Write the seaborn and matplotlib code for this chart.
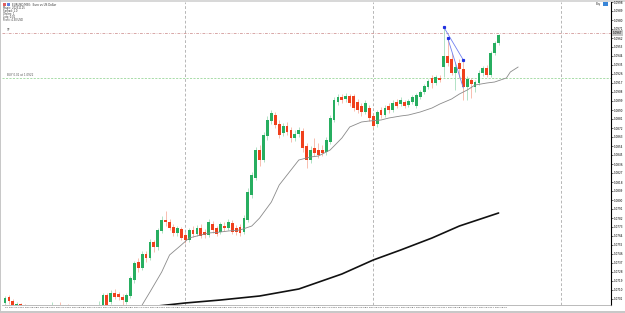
import matplotlib
matplotlib.use("Agg")
import matplotlib.pyplot as plt
import seaborn as sns
import pandas as pd
from matplotlib.ticker import MultipleLocator, FormatStrFormatter
from matplotlib.patches import Rectangle

sns.set_theme(style="white")
plt.rcParams['font.family'] = ['DejaVu Sans']

# ---- candle data (EURUSD M30) ----
opens = [1.0697,1.0703,1.0699,1.0694,1.0696,1.0694,1.0690,1.0686,1.0689,1.0684,
         1.0680,1.0683,1.0689,1.0693,1.0687,1.0685,1.0688,1.0686,1.0682,1.0686,
         1.0683,1.0687,1.0690,1.0688,1.0692,1.0695,1.0705,1.0698,1.0707,1.0706,
         1.0703,1.0698,1.0704,1.0720,1.0738,1.0732,1.0746,1.0742,1.0758,1.0753,
         1.0769,1.0780,1.0778,1.0773,1.0767,1.0771,1.0765,1.0760,1.0770,1.0766,
         1.0772,1.0768,1.0765,1.0776,1.0772,1.0768,1.0774,1.0772,1.0777,1.0772,
         1.0773,1.0768,1.0780,1.0805,1.0822,1.0850,1.0840,1.0864,1.0879,1.0885,
         1.0876,1.0867,1.0874,1.0870,1.0862,1.0866,1.0869,1.0854,1.0840,1.0852,
         1.0850,1.0850,1.0848,1.0858,1.0880,1.0898,1.0903,1.0901,1.0904,1.0904,
         1.0898,1.0894,1.0888,1.0892,1.0884,1.0876,1.0890,1.0885,1.0894,1.0890,
         1.0898,1.0896,1.0898,1.0895,1.0898,1.0894,1.0903,1.0908,1.0913,1.0922,
         1.0917,1.0922,1.0933,1.0944,1.0941,1.0927,1.0937,1.0931,1.0913,1.0920,
         1.0913,1.0917,1.0927,1.0932,1.0925,1.0947,1.0957]
highs = [1.0704,1.0705,1.0701,1.0698,1.0697,1.0696,1.0693,1.0691,1.0692,1.0687,
         1.0685,1.0692,1.0698,1.0694,1.0698,1.0691,1.0696,1.0689,1.0688,1.0690,
         1.0689,1.0692,1.0693,1.0694,1.0699,1.0707,1.0707,1.0710,1.0711,1.0708,
         1.0706,1.0707,1.0724,1.0739,1.0742,1.0749,1.0749,1.0761,1.0760,1.0772,
         1.0784,1.0789,1.0781,1.0776,1.0774,1.0773,1.0768,1.0772,1.0774,1.0775,
         1.0776,1.0771,1.0781,1.0779,1.0774,1.0778,1.0778,1.0781,1.0780,1.0775,
         1.0776,1.0785,1.0812,1.0828,1.0853,1.0855,1.0868,1.0884,1.0890,1.0888,
         1.0880,1.0877,1.0878,1.0873,1.0870,1.0873,1.0872,1.0857,1.0854,1.0862,
         1.0857,1.0855,1.0863,1.0885,1.0903,1.0906,1.0906,1.0907,1.0906,1.0906,
         1.0901,1.0897,1.0900,1.0895,1.0887,1.0890,1.0893,1.0895,1.0897,1.0900,
         1.0901,1.0903,1.0900,1.0901,1.0905,1.0907,1.0910,1.0916,1.0921,1.0925,
         1.0925,1.0925,1.0973,1.0962,1.0947,1.0938,1.0941,1.0940,1.0924,1.0922,
         1.0920,1.0930,1.0934,1.0935,1.0949,1.0959,1.0966]
lows = [1.0695,1.0696,1.0694,1.0693,1.0693,1.0688,1.0684,1.0684,1.0682,1.0678,
        1.0678,1.0681,1.0687,1.0685,1.0683,1.0682,1.0684,1.0680,1.0680,1.0681,
        1.0681,1.0685,1.0686,1.0686,1.0691,1.0694,1.0692,1.0696,1.0701,1.0700,
        1.0693,1.0696,1.0702,1.0717,1.0728,1.0730,1.0738,1.0740,1.0748,1.0750,
        1.0767,1.0774,1.0770,1.0764,1.0764,1.0760,1.0757,1.0758,1.0763,1.0764,
        1.0762,1.0762,1.0763,1.0767,1.0764,1.0766,1.0769,1.0770,1.0766,1.0765,
        1.0764,1.0766,1.0778,1.0802,1.0820,1.0834,1.0838,1.0860,1.0876,1.0872,
        1.0862,1.0864,1.0865,1.0858,1.0859,1.0863,1.0848,1.0832,1.0837,1.0844,
        1.0842,1.0844,1.0845,1.0856,1.0878,1.0895,1.0897,1.0898,1.0894,1.0889,
        1.0887,1.0884,1.0886,1.0879,1.0871,1.0873,1.0882,1.0883,1.0887,1.0888,
        1.0892,1.0894,1.0892,1.0893,1.0896,1.0892,1.0901,1.0906,1.0911,1.0912,
        1.0915,1.0918,1.0923,1.0934,1.0925,1.0910,1.0922,1.0900,1.0900,1.0902,
        1.0908,1.0915,1.0924,1.0923,1.0923,1.0945,1.0955]
closes = [1.0702,1.0699,1.0695,1.0696,1.0694,1.0690,1.0686,1.0689,1.0684,1.0680,
          1.0683,1.0689,1.0693,1.0687,1.0685,1.0688,1.0686,1.0682,1.0686,1.0683,
          1.0687,1.0690,1.0688,1.0692,1.0695,1.0705,1.0694,1.0707,1.0703,1.0703,
          1.0700,1.0705,1.0722,1.0737,1.0732,1.0746,1.0742,1.0758,1.0753,1.0770,
          1.0780,1.0778,1.0772,1.0767,1.0772,1.0762,1.0760,1.0770,1.0766,1.0772,
          1.0764,1.0765,1.0778,1.0770,1.0766,1.0776,1.0772,1.0778,1.0768,1.0768,
          1.0767,1.0782,1.0808,1.0825,1.0850,1.0840,1.0865,1.0880,1.0887,1.0875,
          1.0865,1.0874,1.0868,1.0862,1.0866,1.0870,1.0852,1.0840,1.0850,1.0847,
          1.0845,1.0847,1.0860,1.0882,1.0900,1.0903,1.0900,1.0904,1.0897,1.0892,
          1.0890,1.0888,1.0897,1.0882,1.0874,1.0888,1.0885,1.0892,1.0890,1.0897,
          1.0894,1.0900,1.0894,1.0899,1.0903,1.0905,1.0908,1.0914,1.0919,1.0917,
          1.0923,1.0920,1.0944,1.0937,1.0927,1.0933,1.0931,1.0913,1.0921,1.0916,
          1.0918,1.0927,1.0932,1.0925,1.0947,1.0957,1.0965]

# moving averages (bar index, price)
ma_fast_bar = [35,37,40,42,45,47,50,52,55,57,60,63,65,68,70,73,75,78,80,83,86,88,91,
               93,96,98,101,103,106,109,111,114,116,118,120,123,125,128,129,131]
ma_fast_val = [1.0695,1.0708,1.0728,1.0745,1.0755,1.0762,1.0765,1.0767,1.0768,1.0769,
               1.0770,1.0774,1.0782,1.0798,1.0815,1.0830,1.0840,1.0843,1.0844,1.0850,
               1.0862,1.0873,1.0878,1.0879,1.0880,1.0882,1.0884,1.0885,1.0888,1.0892,
               1.0896,1.0901,1.0906,1.0910,1.0915,1.0917,1.0918,1.0922,1.0928,1.0933]
ma_slow_bar = [39,46,55,65,75,86,94,101,109,116,126]
ma_slow_val = [1.0694,1.0697,1.0700,1.0704,1.0711,1.0726,1.0740,1.0750,1.0762,1.0774,1.0787]

# chart objects
tp_level = 1.0967
buy_level = 1.0922
separators = [46, 94, 142]
trend1_bar = [112, 117]
trend1_val = [1.0973, 1.0940]
trend2_bar = [113, 117]
trend2_val = [1.0962, 1.0912]

time_tick_bars = list(range(0, 125, 4))
time_labels = ["15 Nov 01:00","15 Nov 03:00","15 Nov 05:00","15 Nov 07:00","15 Nov 09:00",
               "15 Nov 11:00","15 Nov 13:00","15 Nov 15:00","15 Nov 17:00","15 Nov 19:00",
               "15 Nov 21:00","15 Nov 23:00","16 Nov 01:00","16 Nov 03:00","16 Nov 05:00",
               "16 Nov 07:00","16 Nov 09:00","16 Nov 11:00","16 Nov 13:00","16 Nov 15:00",
               "16 Nov 17:00","16 Nov 19:00","16 Nov 21:00","16 Nov 23:00","17 Nov 01:00",
               "17 Nov 03:00","17 Nov 05:00","17 Nov 07:00","17 Nov 09:00","17 Nov 11:00",
               "17 Nov 13:00","17 Nov 15:00"]
info_lines = ["Magic: 20231115", "Spread: 1.0", "Orders: 1", "Lots: 0.01", "Profit: 4.30 USD"]

df = pd.DataFrame({"o": opens, "h": highs, "l": lows, "c": closes})
df["bar"] = range(len(df))
df["up"] = df["c"] >= df["o"]

W, H = 625, 313
fig = plt.figure(figsize=(W / 100, H / 100), dpi=100)
fig.patch.set_facecolor("white")
ax = fig.add_axes([2 / W, (H - 305) / H, (611 - 2) / W, (305 - 2) / H])
ax.set_facecolor("white")

GREEN, RED = "#27ae60", "#f0401c"
GWICK, RWICK = "#93d6ae", "#f6a48f"

# separators & levels
for s in separators:
    ax.axvline(s, color="#9a9a9a", lw=0.5, ls=(0, (4, 3)), zorder=1)
ax.axhline(tp_level, color="#c98484", lw=0.5, ls=(0, (4, 2, 1, 2)), zorder=1)
ax.axhline(buy_level, color="#86cf86", lw=0.5, ls=(0, (3, 2)), zorder=1)

# wicks
for up, wc in ((True, GWICK), (False, RWICK)):
    d = df[df["up"] == up]
    ax.vlines(d["bar"], d["l"], d["h"], color=wc, lw=0.5, zorder=2)
# bodies
for up, bc in ((True, GREEN), (False, RED)):
    d = df[df["up"] == up]
    lo = d[["o", "c"]].min(axis=1)
    hi = d[["o", "c"]].max(axis=1)
    ax.bar(d["bar"], (hi - lo).clip(lower=0.00008), bottom=lo, width=0.72,
           color=bc, linewidth=0, zorder=3)

# moving averages
sns.lineplot(x=ma_fast_bar, y=ma_fast_val, ax=ax, color="#8a8a8a", lw=0.6,
             sort=False, estimator=None, zorder=4)
sns.lineplot(x=ma_slow_bar, y=ma_slow_val, ax=ax, color="#111111", lw=1.2,
             sort=False, estimator=None, zorder=4)

# trendlines
ax.plot(trend1_bar, trend1_val, color="#7080f0", lw=0.6, zorder=5)
ax.plot(trend2_bar, trend2_val, color="#7080f0", lw=0.6, zorder=5)
ax.plot([trend1_bar[0], trend2_bar[0], trend1_bar[1]],
        [trend1_val[0], trend2_val[0], trend1_val[1]],
        ls="none", marker="s", ms=1.3, color="#2030e0", zorder=6)

ax.set_xlim(-0.77, 154.7)
ax.set_ylim(1.0695, 1.0998)

# axes styling
for sp in ("left", "top"):
    ax.spines[sp].set_visible(False)
ax.spines["right"].set_color("black")
ax.spines["right"].set_linewidth(0.8)
ax.spines["bottom"].set_color("#a0a0a0")
ax.spines["bottom"].set_linewidth(0.5)
ax.yaxis.tick_right()
ax.yaxis.set_major_locator(MultipleLocator(0.0009))
ax.yaxis.set_major_formatter(FormatStrFormatter("%.4f"))
ax.tick_params(axis="y", labelsize=2.0, length=1.2, width=0.4, pad=0.5,
               colors="black", direction="out")
ax.set_xticks(time_tick_bars)
ax.set_xticklabels(time_labels, ha="left")
ax.tick_params(axis="x", labelsize=1.7, length=1.0, width=0.4, pad=0.8,
               colors="#333333", direction="out")
ax.set_xlabel("")
ax.set_ylabel("")
ax.grid(False)

# price tag for the TP level
ax.text(1.003, tp_level, "%.4f" % tp_level, transform=ax.get_yaxis_transform(),
        fontsize=2.0, va="center", ha="left", color="black",
        bbox=dict(boxstyle="square,pad=0.2", fc="#c8c8c8", ec="none"))

# left labels on lines
ax.text(0.5, tp_level + 0.0001, "TP", fontsize=2.0, color="#555555", va="bottom", ha="left")
ax.text(0.5, buy_level + 0.0001, "BUY 0.01 at 1.0922", fontsize=2.0, color="#555555",
        va="bottom", ha="left")

# header text
fig.patches.append(Rectangle((3 / W, 1 - 6 / H), 3 / W, 3 / H, transform=fig.transFigure,
                             fc="#e06060", ec="none"))
fig.patches.append(Rectangle((7 / W, 1 - 6 / H), 3 / W, 3 / H, transform=fig.transFigure,
                             fc="#6080e0", ec="none"))
fig.text(12 / W, 1 - 4.5 / H, "EURUSD,M30:  Euro vs US Dollar", fontsize=2.0,
         color="#333333", va="center", ha="left")
for k, t in enumerate(info_lines):
    fig.text(3 / W, 1 - (8 + 3.0 * k) / H, t, fontsize=1.8, color="#333333",
             va="center", ha="left")
fig.text(596 / W, 1 - 4 / H, "Buy", fontsize=2.0, color="#333333", va="center", ha="left")
fig.patches.append(Rectangle((603 / W, 1 - 6 / H), 5 / W, 4 / H, transform=fig.transFigure,
                             fc="#3a86d8", ec="none"))

# frame
fig.patches.append(Rectangle((0, 1 - 1.5 / H), 1, 1.5 / H, transform=fig.transFigure,
                             fc="#d8d8d8", ec="none", zorder=-1))
fig.patches.append(Rectangle((0, 0), 1, 2.5 / H, transform=fig.transFigure,
                             fc="#c8c8c8", ec="none"))
fig.patches.append(Rectangle((0, 0), 1.5 / W, 1, transform=fig.transFigure,
                             fc="#c8c8c8", ec="none"))

fig.savefig("out.png", dpi=100)
